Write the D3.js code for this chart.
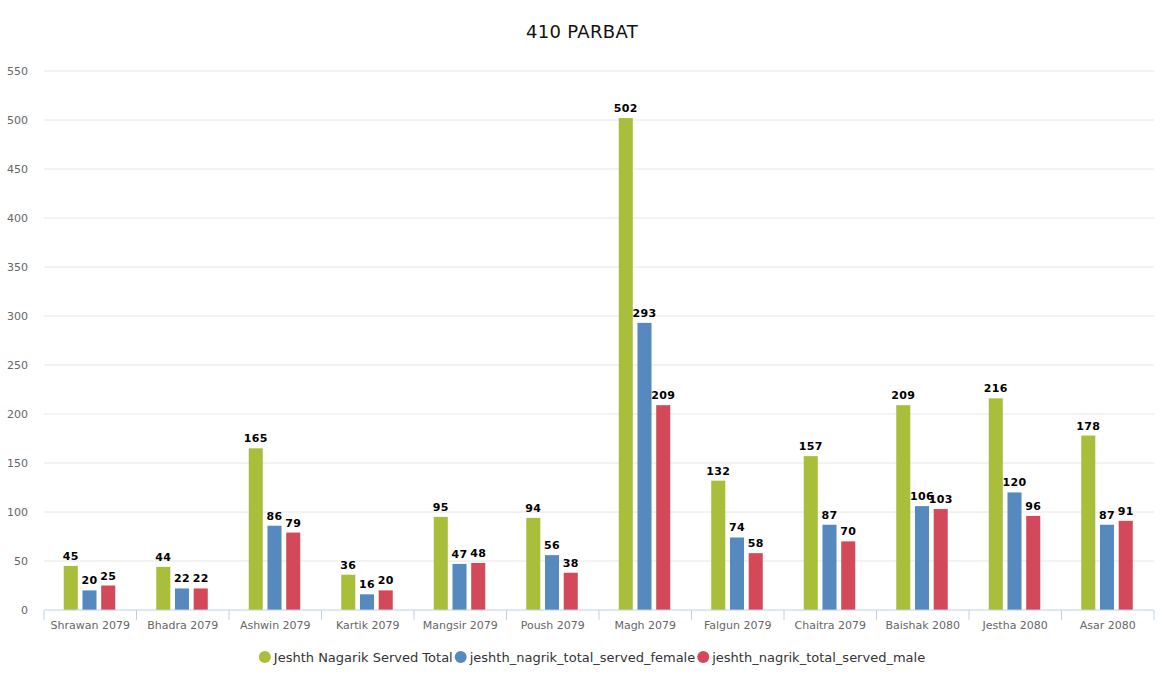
<!DOCTYPE html>
<html>
<head>
    <meta charset='utf-8'>
    <title>410 PARBAT</title>
    <script src='https://d3js.org/d3.v7.min.js'></script>
    <style>
        body { margin: 0; background: #fff; }
        text { font-family: 'DejaVu Sans', Verdana, sans-serif; }
    </style>
</head>
<body>
<div id='chart'></div>
<script type='text/javascript'>
    // dados
    const months = ['Shrawan 2079', 'Bhadra 2079', 'Ashwin 2079', 'Kartik 2079', 'Mangsir 2079', 'Poush 2079',
                    'Magh 2079', 'Falgun 2079', 'Chaitra 2079', 'Baishak 2080', 'Jestha 2080', 'Asar 2080'];
    const servedTotal = [45, 44, 165, 36, 95, 94, 502, 132, 157, 209, 216, 178];
    const servedFemale = [20, 22, 86, 16, 47, 56, 293, 74, 87, 106, 120, 87];
    const servedMale = [25, 22, 79, 20, 48, 38, 209, 58, 70, 103, 96, 91];
    const seriesNames = ['Jeshth Nagarik Served Total', 'jeshth_nagrik_total_served_female', 'jeshth_nagrik_total_served_male'];
    const seriesColors = ['#a9bf3b', '#568abf', '#d4495a'];
    const yTicks = [0, 50, 100, 150, 200, 250, 300, 350, 400, 450, 500, 550];

    const series = [servedTotal, servedFemale, servedMale];

    const W = 1164, H = 685;
    let margin = {top: 71, right: 10, bottom: 75, left: 44};
    let w = W - margin.left - margin.right;
    let h = H - margin.top - margin.bottom;

    let svg = d3.select('#chart')
        .append('svg')
            .attr('width', W)
            .attr('height', H);

    svg.append('text')
        .attr('x', W / 2)
        .attr('y', 38)
        .attr('text-anchor', 'middle')
        .attr('font-size', '18px')
        .attr('letter-spacing', '0.3px')
        .attr('fill', '#111')
        .text('410 PARBAT');

    let g = svg.append('g')
        .attr('transform', `translate(${margin.left},${margin.top})`);

    // escalas
    let x0 = d3.scaleBand().domain(months).range([0, w]).padding(0);
    let x1 = d3.scaleBand().domain(d3.range(series.length))
        .range([x0.bandwidth() / 2 - 26.5, x0.bandwidth() / 2 + 25])
        .paddingInner(0.25).paddingOuter(0);
    let y = d3.scaleLinear().domain([0, 550]).range([h, 0]);

    // grade
    g.selectAll('.grid')
        .data(yTicks.filter(d => d > 0))
        .enter()
        .append('line')
        .attr('x1', 0).attr('x2', w)
        .attr('y1', d => y(d)).attr('y2', d => y(d))
        .attr('stroke', '#e6e6e6');

    // eixo Y
    let yAxis = d3.axisLeft(y).tickValues(yTicks).tickSize(0).tickPadding(16);
    let yg = g.append('g').call(yAxis);
    yg.select('.domain').remove();
    yg.selectAll('text')
        .attr('font-family', "'DejaVu Sans', Verdana, sans-serif")
        .attr('font-size', '11px')
        .attr('fill', '#666');

    // barras
    let groups = g.selectAll('.month')
        .data(months)
        .enter()
        .append('g')
        .attr('transform', d => `translate(${x0(d)},0)`);

    groups.each(function(m, i) {
        let grp = d3.select(this);
        series.forEach((s, k) => {
            grp.append('rect')
                .attr('x', x1(k))
                .attr('y', y(s[i]))
                .attr('width', x1.bandwidth())
                .attr('height', h - y(s[i]))
                .attr('fill', seriesColors[k]);
            grp.append('text')
                .attr('x', x1(k) + x1.bandwidth() / 2)
                .attr('y', y(s[i]) - 6)
                .attr('text-anchor', 'middle')
                .attr('font-size', '11px')
                .attr('font-weight', 'bold')
                .attr('letter-spacing', '0.3px')
                .attr('fill', '#000')
                .text(s[i]);
        });
    });

    // eixo X
    let xg = g.append('g').attr('transform', `translate(0,${h})`);
    xg.append('line')
        .attr('x1', 0).attr('x2', w)
        .attr('stroke', '#c0d0e0');
    xg.selectAll('.tick')
        .data(months.map(m => x0(m)).concat([w]))
        .enter()
        .append('line')
        .attr('x1', d => d).attr('x2', d => d)
        .attr('y1', 0).attr('y2', 10)
        .attr('stroke', '#c0d0e0');
    xg.selectAll('.label')
        .data(months)
        .enter()
        .append('text')
        .attr('x', d => x0(d) + x0.bandwidth() / 2)
        .attr('y', 19)
        .attr('text-anchor', 'middle')
        .attr('font-size', '11px')
        .attr('fill', '#666')
        .text(d => d);

    // legenda
    let legend = svg.append('g').attr('transform', `translate(0,657)`);
    let items = legend.selectAll('.item')
        .data(seriesNames)
        .enter()
        .append('g');
    items.append('circle')
        .attr('cx', 6).attr('cy', 0).attr('r', 6)
        .attr('fill', (d, i) => seriesColors[i]);
    items.append('text')
        .attr('x', 15).attr('y', 5)
        .attr('font-size', '13px')
        .attr('fill', '#333')
        .text(d => d);
    let offsets = [];
    let total = 0;
    items.each(function() {
        offsets.push(total);
        total += this.getBBox().width + 2;
    });
    let startX = margin.left + (w - total) / 2 - 6;
    items.attr('transform', (d, i) => `translate(${startX + offsets[i]},0)`);
</script>
</body>
</html>
